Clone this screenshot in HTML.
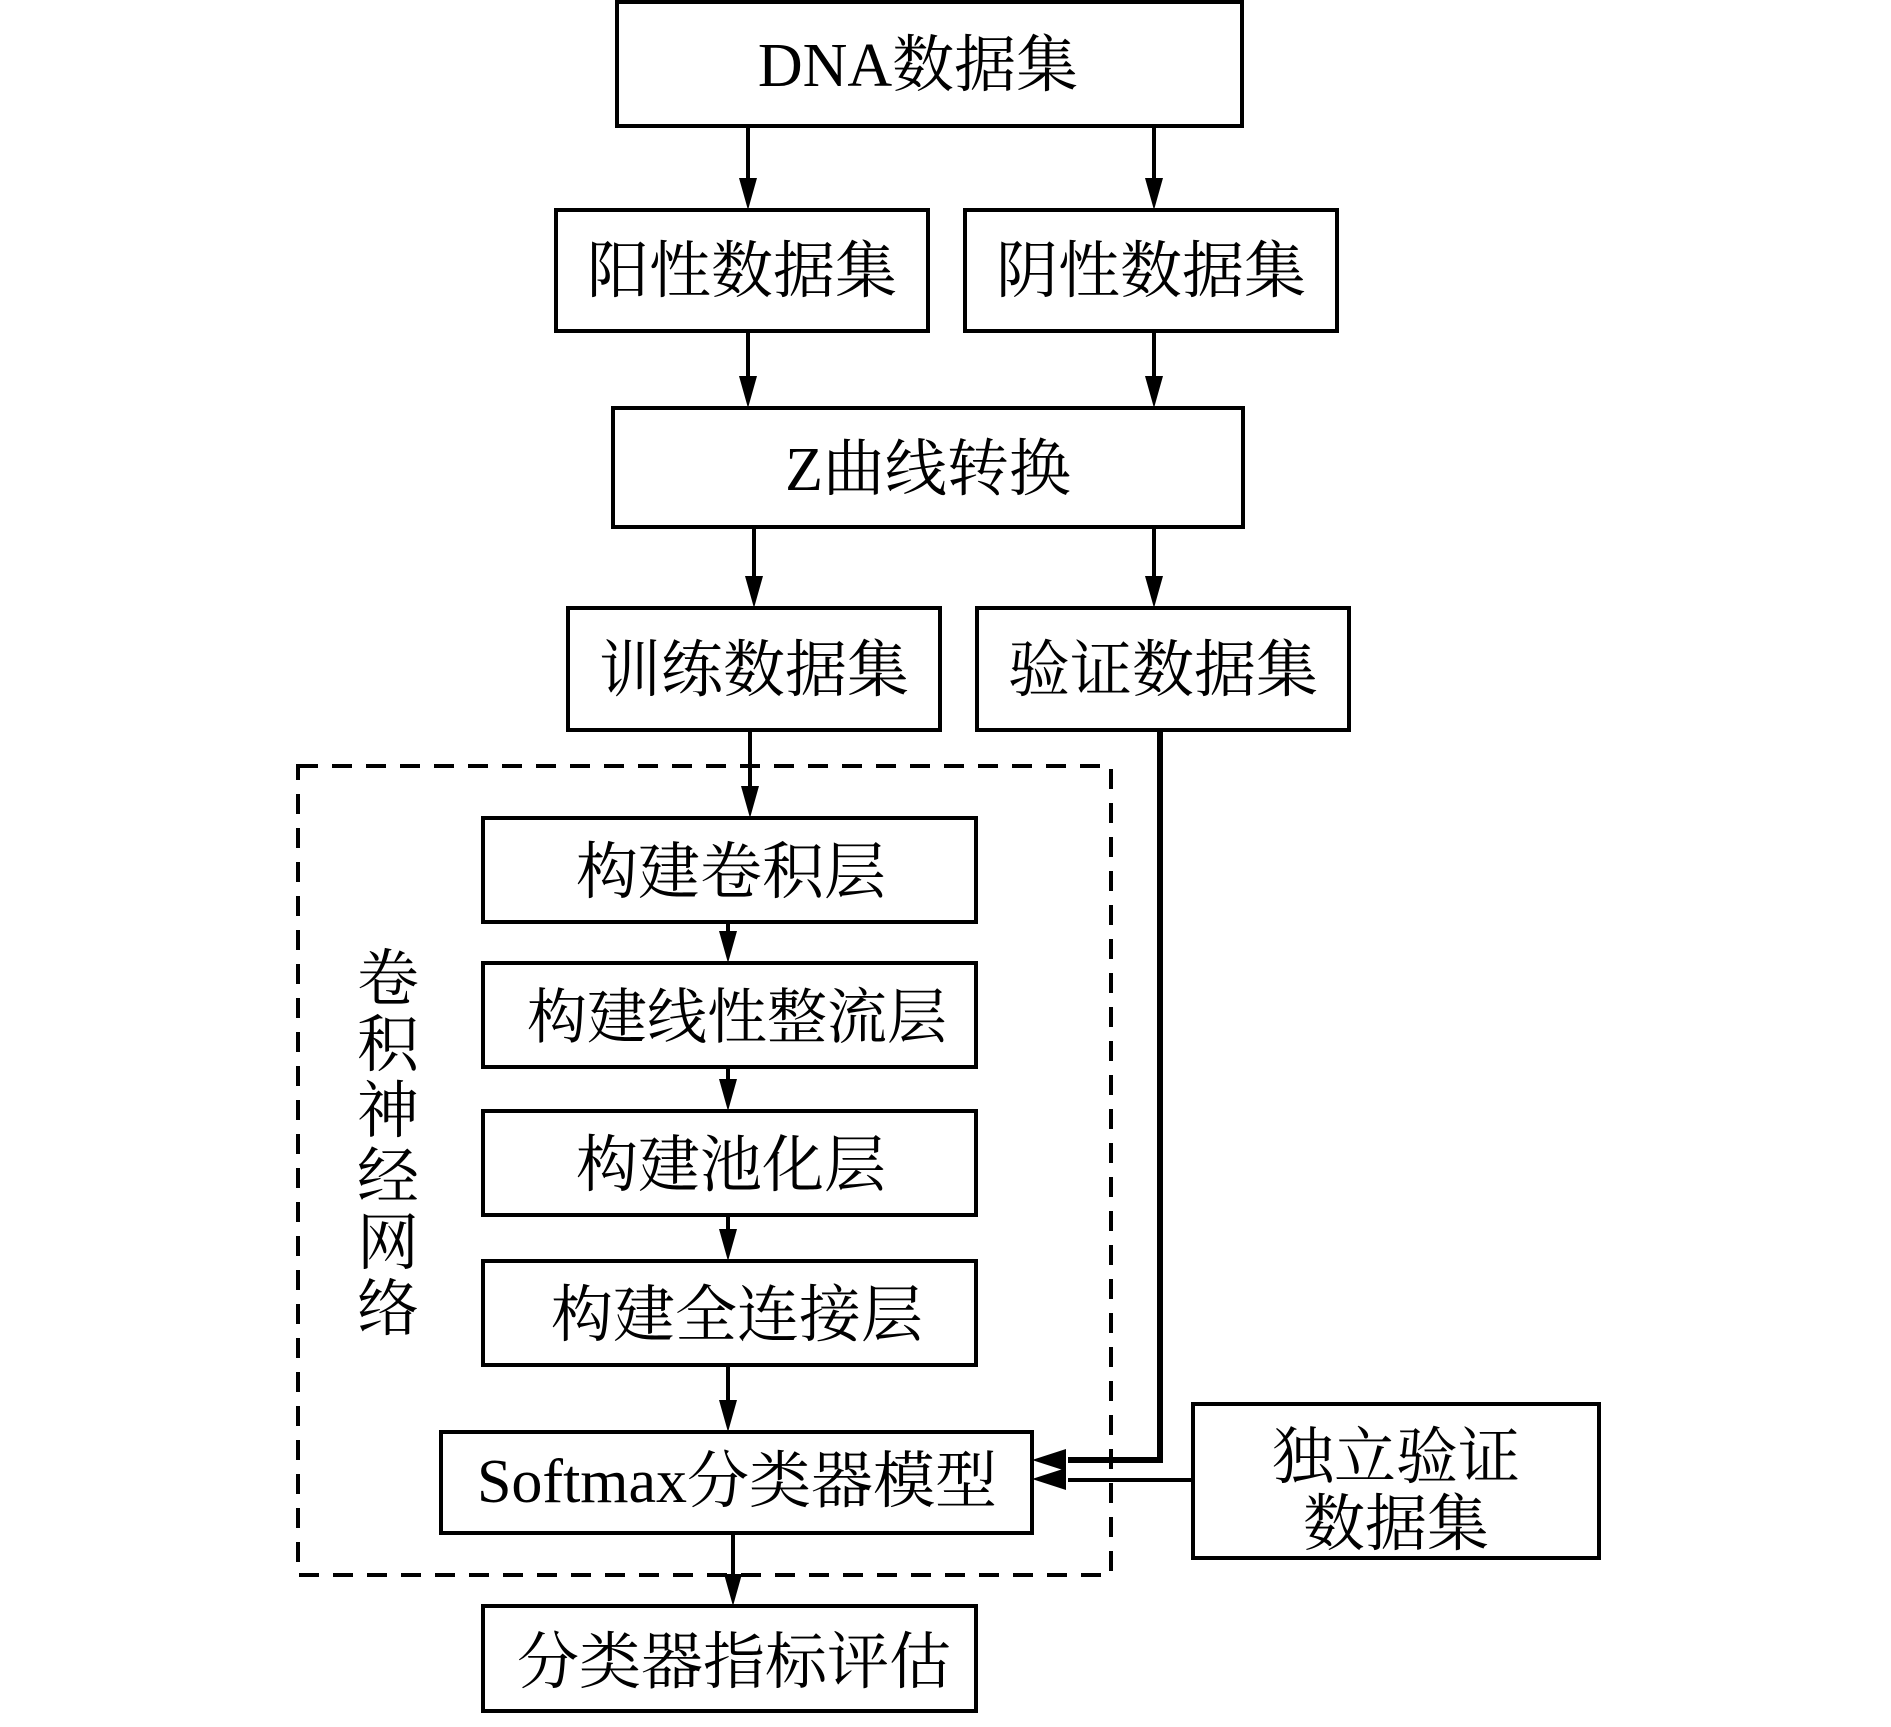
<!DOCTYPE html>
<html><head><meta charset="utf-8"><style>
html,body{margin:0;padding:0;background:#fff;}
svg text{font-family:"Liberation Serif","Noto Serif CJK SC",serif;fill:#000;}
</style></head><body>
<svg width="1891" height="1722" viewBox="0 0 1891 1722" xmlns="http://www.w3.org/2000/svg">
<defs>
<marker id="a" markerWidth="10" markerHeight="10" refX="10" refY="5" orient="auto" markerUnits="userSpaceOnUse" viewBox="0 0 10 10"></marker>
</defs>
<g fill="none" stroke="#000" stroke-width="4">
<rect x="617" y="2" width="625" height="124"/>
<rect x="556" y="210" width="372" height="121"/>
<rect x="965" y="210" width="372" height="121"/>
<rect x="613" y="408" width="630" height="119"/>
<rect x="568" y="608" width="372" height="122"/>
<rect x="977" y="608" width="372" height="122"/>
<rect x="483" y="818" width="493" height="104"/>
<rect x="483" y="963" width="493" height="104"/>
<rect x="483" y="1111" width="493" height="104"/>
<rect x="483" y="1261" width="493" height="104"/>
<rect x="441" y="1432" width="591" height="101"/>
<rect x="483" y="1606" width="493" height="105"/>
<rect x="1193" y="1404" width="406" height="154"/>
<rect x="298" y="766" width="813" height="809" stroke-dasharray="20 14"/>
<path d="M748 126V200 M1154 126V200 M748 331V398 M1154 331V398 M754 527V598 M1154 527V598 M750 730V808 M728 922V953 M728 1067V1101 M728 1215V1251 M728 1365V1422 M733 1533V1596"/>
<path d="M1160 730V1460H1068" stroke-width="6"/>
<path d="M1193 1480H1068"/>
</g>
<g fill="#000">
<path d="M748 210l-9 -32h18z M1154 210l-9 -32h18z M748 408l-9 -32h18z M1154 408l-9 -32h18z M754 608l-9 -32h18z M1154 608l-9 -32h18z M750 818l-9 -32h18z M728 963l-9 -32h18z M728 1111l-9 -32h18z M728 1261l-9 -32h18z M728 1432l-9 -32h18z M733 1606l-9 -32h18z"/>
<path d="M1032 1460l34 -11v22z M1032 1479l34 -11v22z"/>
</g>
<g font-size="62" text-anchor="middle">
<text x="918" y="86">DNA数据集</text>
<text x="742" y="292">阳性数据集</text>
<text x="1151" y="292">阴性数据集</text>
<text x="928" y="490">Z曲线转换</text>
<text x="754" y="691">训练数据集</text>
<text x="1163" y="691">验证数据集</text>
<text x="731" y="893">构建卷积层</text>
<text x="737" y="1038" font-size="60">构建线性整流层</text>
<text x="731" y="1186">构建池化层</text>
<text x="737" y="1336">构建全连接层</text>
<text x="737" y="1502">Softmax分类器模型</text>
<text x="734" y="1683">分类器指标评估</text>
<text x="1396" y="1478">独立验证</text>
<text x="1396" y="1545">数据集</text>
</g>
<g font-size="62" text-anchor="middle">
<text x="388" y="1000">卷</text>
<text x="388" y="1066">积</text>
<text x="388" y="1132">神</text>
<text x="388" y="1198">经</text>
<text x="388" y="1264">网</text>
<text x="388" y="1330">络</text>
</g>
</svg>
</body></html>
